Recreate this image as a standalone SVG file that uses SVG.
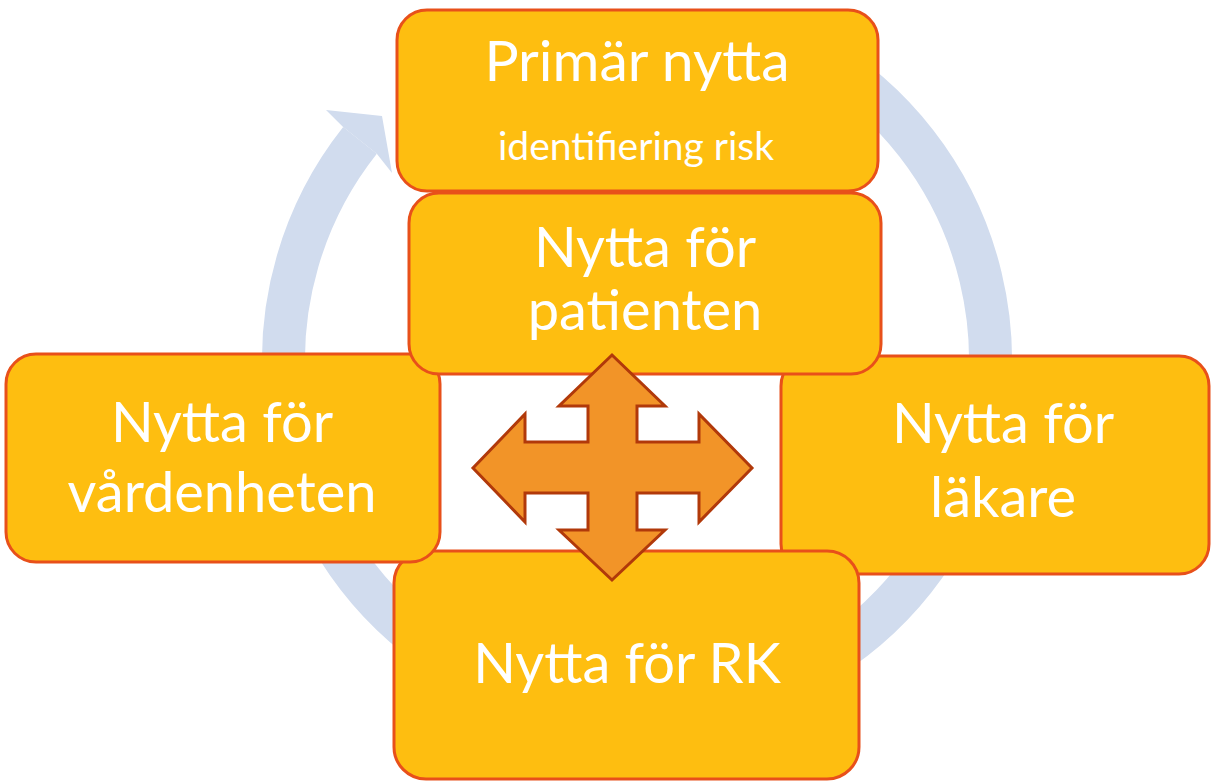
<svg xmlns="http://www.w3.org/2000/svg" width="1211" height="781" viewBox="0 0 1211 781">
  <style>
    .box { fill: #FEBE10; stroke: #E8501A; stroke-width: 3; }
    .big { font-family: Lato, "Liberation Sans", sans-serif; font-size: 56px; fill: #FFFFFF; text-anchor: middle; }
    .small { font-family: Lato, "Liberation Sans", sans-serif; font-size: 39px; fill: #FFFFFF; text-anchor: middle; }
    .ring { fill: none; stroke: #D1DCEE; stroke-width: 43; }
    .cross { fill: #F29428; stroke: #B1390A; stroke-width: 3; stroke-linejoin: miter; }
  </style>

  <!-- circular cycle arrow behind the boxes -->
  <g id="cycle">
    <path class="ring" d="M 813.75 53.9 A 353.5 353.5 0 1 1 360.0 140.4"/>
    <polygon fill="#D1DCEE" points="343.1,127.1 326,110 382,116 392,173 376.8,153.8"/>
  </g>

  <g id="node-lakare">
    <rect class="box" x="781" y="356" width="428" height="218" rx="30"/>
    <text class="big" x="1003" y="443">Nytta för</text>
    <text class="big" x="1003" y="517">läkare</text>
  </g>

  <g id="node-rk">
    <rect class="box" x="394" y="551" width="465" height="228" rx="32"/>
    <text class="big" x="627" y="683">Nytta för RK</text>
  </g>

  <g id="node-vardenheten">
    <rect class="box" x="6" y="354" width="434" height="208" rx="30"/>
    <text class="big" x="222" y="442">Nytta för</text>
    <text class="big" x="222" y="512">vårdenheten</text>
  </g>

  <g id="node-primar">
    <rect class="box" x="397" y="10" width="481" height="181" rx="30"/>
    <text class="big" x="637" y="81" style="font-size:57px">Primär nytta</text>
    <text class="small" x="636" y="160">identifiering risk</text>
  </g>

  <g id="node-patienten">
    <rect class="box" x="409" y="193" width="472" height="181" rx="30"/>
    <text class="big" x="645" y="267">Nytta för</text>
    <text class="big" x="645" y="330">patienten</text>
  </g>

  <!-- four-way arrow in the middle -->
  <g id="connectors">
    <polygon class="cross" points="612,355 665,406 637,406 637,442 699,442 699,414 752,468 699,522 699,493 637,493 637,530 665,530 612,580 559,530 588,530 588,493 525,493 525,522 473,468 525,414 525,442 588,442 588,406 559,406"/>
  </g>
</svg>
